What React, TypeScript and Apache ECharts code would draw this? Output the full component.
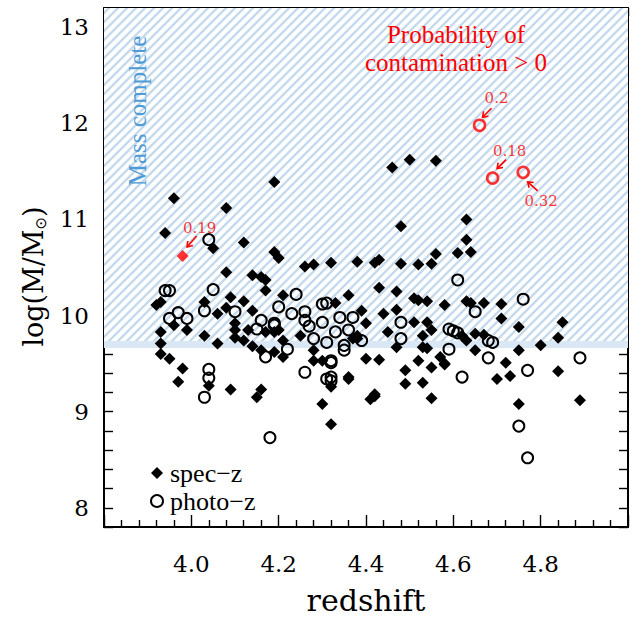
import React, { useEffect, useRef } from 'react';
import * as echarts from 'echarts';

// ---------- data ----------
const specZ: [number, number][] = [
  [3.94, 10.86], [3.96, 11.22], [4.05, 10.70], [4.08, 11.12], [4.12, 10.76], [4.19, 11.39], [4.19, 10.66],
  [4.20, 10.60], [4.26, 10.51], [4.28, 10.53], [4.32, 10.55], [4.38, 10.56], [4.08, 10.45],
  [4.46, 11.54], [4.50, 11.62], [4.56, 11.61], [4.48, 10.93], [4.63, 11.00], [4.63, 10.79], [4.56, 10.64],
  [4.61, 10.65], [4.64, 10.66], [4.42, 10.55], [4.43, 10.58], [4.48, 10.54], [4.52, 10.53], [4.55, 10.54],
  [4.14, 10.42], [4.16, 10.40], [4.17, 10.37], [4.17, 10.26],
  [3.92, 10.11], [3.93, 10.14], [4.03, 10.14], [4.09, 10.19], [4.12, 10.15],
  [4.06, 10.02], [4.08, 10.08], [3.96, 9.90], [3.99, 9.85], [3.93, 9.83], [4.03, 9.79], [4.06, 9.71],
  [3.93, 9.71], [4.10, 9.92], [4.10, 9.85], [4.10, 9.77], [4.12, 9.74], [4.14, 10.05], [4.13, 9.85],
  [4.14, 9.68], [4.16, 9.64], [4.17, 9.83], [4.19, 9.83], [3.93, 9.60], [3.95, 9.55], [3.98, 9.45], [3.97, 9.31],
  [4.43, 10.29], [4.47, 10.25], [4.51, 10.18], [4.52, 10.16], [4.54, 10.15], [4.58, 10.11], [4.21, 10.21],
  [4.36, 10.21], [4.33, 10.13], [4.39, 10.05], [4.40, 9.92], [4.44, 10.02], [4.47, 10.06], [4.51, 9.93],
  [4.54, 9.93], [4.55, 9.85], [4.45, 9.83], [4.53, 9.79], [4.53, 9.67], [4.54, 9.66], [4.47, 9.67],
  [4.20, 9.85], [4.21, 9.74], [4.21, 9.57], [4.19, 9.62], [4.25, 9.79], [4.37, 9.76], [4.38, 9.76],
  [4.38, 9.79], [4.28, 9.64], [4.28, 9.53], [4.30, 9.53], [4.40, 9.55], [4.43, 9.54], [4.49, 9.43],
  [4.52, 9.53], [4.57, 9.57], [4.58, 9.50], [4.55, 9.46], [4.36, 9.36],
  [4.63, 10.15], [4.64, 10.13], [4.67, 10.13], [4.71, 10.12], [4.71, 9.97], [4.75, 9.88], [4.85, 9.93],
  [4.84, 9.77], [4.62, 9.79], [4.63, 9.74], [4.65, 9.81], [4.67, 9.80], [4.65, 9.64], [4.75, 9.64],
  [4.80, 9.69], [4.72, 9.51], [4.58, 9.49], [4.84, 9.42], [4.73, 9.37], [4.70, 9.34],
  [4.04, 9.27], [4.09, 9.23], [4.15, 9.15], [4.16, 9.23], [4.30, 9.08], [4.32, 8.87], [4.32, 9.26],
  [4.36, 9.34], [4.41, 9.13],
  [4.42, 9.16], [4.42, 9.18], [4.49, 9.29], [4.53, 9.30], [4.55, 9.14], [4.75, 9.08], [4.89, 9.12],
];

const photoZ: [number, number][] = [
  [4.04, 10.79], [4.05, 10.27], [3.94, 10.26], [3.95, 10.26], [4.20, 10.09], [3.95, 9.97], [3.97, 10.03],
  [3.99, 9.97], [4.03, 10.05], [4.10, 10.04], [4.15, 9.86], [4.16, 9.95], [4.17, 9.57], [4.19, 9.90],
  [4.04, 9.44], [4.04, 9.35], [4.24, 10.22], [4.23, 10.02], [4.26, 10.04], [4.26, 9.95], [4.27, 9.89],
  [4.30, 9.93], [4.30, 10.12], [4.31, 10.13], [4.34, 9.98], [4.37, 9.98], [4.48, 9.93], [4.48, 9.76],
  [4.59, 9.86], [4.59, 9.65], [4.19, 9.92], [4.22, 9.65], [4.28, 9.76], [4.31, 9.72], [4.33, 9.83],
  [4.35, 9.69], [4.35, 9.64], [4.36, 9.85], [4.39, 9.74], [4.32, 9.53], [4.32, 9.51], [4.26, 9.41],
  [4.31, 9.34], [4.32, 9.36],
  [4.61, 10.37], [4.76, 10.17], [4.65, 10.04], [4.60, 9.84], [4.61, 9.82], [4.68, 9.74], [4.69, 9.72],
  [4.68, 9.56], [4.89, 9.56], [4.77, 9.43], [4.62, 9.36],
  [4.03, 9.15], [4.18, 8.73], [4.32, 9.32], [4.75, 8.85], [4.77, 8.52],
];

// galaxies with probability of contamination > 0
const contamPhotoZ: [number, number][] = [[4.66, 11.98], [4.69, 11.43], [4.76, 11.49]];
const contamPhotoProb = ['0.2', '0.18', '0.32'];
const contamSpecZ: [number, number][] = [[3.98, 10.62]];
const contamSpecProb = ['0.19'];

const massCompleteLimit = 9.7;
const xRange = [3.8, 5.0];
const yRange = [7.8, 13.2];

const seriesNames = ['spec\u2212z', 'photo\u2212z'];
const titleLines = ['Probability of', 'contamination > 0'];
const massCompleteText = 'Mass complete';

// ---------- styling (pixel offsets of annotations relative to their point) ----------
const photoAnnot = [
  { label: [17, -27], tail: [12, -17], head: [3, -8] },
  { label: [17, -27], tail: [13.5, -18.5], head: [4.5, -9.5] },
  { label: [18, 29], tail: [14.5, 18.5], head: [4.5, 9.5] },
];
const specAnnot = [{ label: [17, -28], tail: [14, -20], head: [4.5, -9] }];

const SERIF = "'Liberation Serif', 'Times New Roman', serif";
const DSERIF = "'DejaVu Serif', serif";
const RED = '#ff0000';

function makeHatch(): HTMLCanvasElement {
  const s = 9;
  const c = document.createElement('canvas');
  c.width = s;
  c.height = s;
  const g = c.getContext('2d')!;
  g.fillStyle = '#ffffff';
  g.fillRect(0, 0, s, s);
  g.strokeStyle = '#c6daee';
  g.lineWidth = 2.4;
  g.lineCap = 'square';
  g.beginPath();
  g.moveTo(-s, 2 * s); g.lineTo(2 * s, -s);
  g.moveTo(-s, s); g.lineTo(s, -s);
  g.moveTo(0, 2 * s); g.lineTo(2 * s, 0);
  g.stroke();
  return c;
}

export default function App() {
  const ref = useRef<HTMLDivElement>(null);

  useEffect(() => {
    if (!ref.current) return;
    document.body.style.margin = '0';
    const chart = echarts.init(ref.current, undefined, { renderer: 'svg' });
    const hatch = makeHatch();

    const tickLine = { color: '#000', width: 1.4 };
    const axisLine = { show: true, onZero: false, lineStyle: { color: '#000', width: 2 } };

    const staticGraphic: any[] = [
      {
        type: 'text', id: 'mass', x: 137, y: 111, rotation: Math.PI / 2, z: 5,
        style: { text: massCompleteText, fill: '#4f9bd5', font: `25px ${SERIF}`, textAlign: 'center', textVerticalAlign: 'middle', verticalAlign: 'middle' },
      },
      {
        type: 'text', id: 't1', x: 456, y: 34, z: 5,
        style: { text: titleLines[0], fill: RED, font: `25px ${SERIF}`, textAlign: 'center', textVerticalAlign: 'middle', verticalAlign: 'middle' },
      },
      {
        type: 'text', id: 't2', x: 456, y: 62, z: 5,
        style: { text: titleLines[1], fill: RED, font: `25px ${SERIF}`, textAlign: 'center', textVerticalAlign: 'middle', verticalAlign: 'middle' },
      },
    ];

    const probLabel = (offset: number[]) => ({
      show: true, position: 'inside', offset, color: RED, fontFamily: DSERIF, fontSize: 15,
    });

    const option: any = {
      animation: false,
      backgroundColor: '#ffffff',
      grid: { left: 104, right: 5, top: 8, bottom: 92, containLabel: false },
      legend: {
        orient: 'vertical', left: 145, top: 455, itemWidth: 12, itemHeight: 12, itemGap: 2,
        textStyle: { fontFamily: SERIF, fontSize: 26, lineHeight: 26, color: '#000', padding: [0, 0, 0, 2] },
        data: [
          { name: seriesNames[0], icon: 'diamond' },
          { name: seriesNames[1], icon: 'circle' },
        ],
      },
      xAxis: [
        {
          type: 'value', min: xRange[0], max: xRange[1], interval: 0.2, position: 'bottom',
          axisLine, splitLine: { show: false },
          axisTick: { show: true, inside: true, length: 12, lineStyle: tickLine },
          minorTick: { show: true, splitNumber: 5, length: 7, lineStyle: tickLine },
          axisLabel: {
            margin: 25, color: '#000', fontFamily: DSERIF, fontSize: 23,
            formatter: (v: number) => (v > 3.85 && v < 4.95 ? v.toFixed(1) : ''),
          },
          name: 'redshift', nameLocation: 'middle', nameGap: 58,
          nameTextStyle: { fontFamily: DSERIF, fontSize: 30, color: '#000' },
        },
        {
          type: 'value', min: xRange[0], max: xRange[1], interval: 0.2, position: 'top',
          axisLine, splitLine: { show: false },
          axisTick: { show: true, inside: true, length: 8, lineStyle: tickLine },
          minorTick: { show: true, splitNumber: 5, length: 8, lineStyle: tickLine },
          axisLabel: { show: false },
        },
      ],
      yAxis: [
        {
          type: 'value', min: yRange[0], max: yRange[1], interval: 0.2, position: 'left',
          axisLine, splitLine: { show: false },
          axisTick: { show: true, inside: true, length: 9, lineStyle: tickLine },
          axisLabel: {
            margin: 15, color: '#000', fontFamily: DSERIF, fontSize: 23, showMinLabel: true, showMaxLabel: true,
            formatter: (v: number) => (Math.abs(v - Math.round(v)) < 1e-6 ? String(Math.round(v)) : ''),
          },
          name: 'log(M/M{sub|\u2299})', nameLocation: 'middle', nameGap: 56,
          nameTextStyle: {
            fontFamily: DSERIF, fontSize: 27, color: '#000', padding: [0, 18, 0, 0],
            rich: { sub: { fontFamily: "'DejaVu Sans', sans-serif", fontSize: 15, color: '#000', padding: [15, 0, 0, 0] } },
          },
        },
        {
          type: 'value', min: yRange[0], max: yRange[1], interval: 0.2, position: 'right',
          axisLine, splitLine: { show: false },
          axisTick: { show: true, inside: true, length: 9, lineStyle: tickLine },
          axisLabel: { show: false },
        },
      ],
      series: [
        {
          name: 'mass-complete', type: 'scatter', data: [], z: 1, silent: true,
          markArea: {
            silent: true, z: 1,
            itemStyle: { color: { image: hatch, repeat: 'repeat', imageWidth: hatch.width, imageHeight: hatch.height } },
            data: [[{ yAxis: massCompleteLimit }, { yAxis: yRange[1] }]],
          },
          markLine: {
            silent: true, symbol: 'none', z: 1,
            lineStyle: { color: '#dae7f5', width: 7, type: 'solid' },
            label: { show: false },
            data: [{ yAxis: massCompleteLimit }],
          },
        },
        {
          name: seriesNames[1], type: 'scatter', z: 3, data: photoZ,
          symbol: 'circle', symbolSize: 11,
          itemStyle: { color: 'rgba(255,255,255,0)', borderColor: '#000', borderWidth: 2, opacity: 1 },
        },
        {
          name: seriesNames[0], type: 'scatter', z: 4, data: specZ,
          symbol: 'diamond', symbolSize: 12,
          itemStyle: { color: '#000', opacity: 1 },
        },
        {
          name: 'contam-photo', type: 'scatter', z: 5,
          symbol: 'circle', symbolSize: 11,
          itemStyle: { color: 'rgba(255,255,255,0)', borderColor: RED, borderWidth: 2.6 },
          data: contamPhotoZ.map((v, i) => ({
            value: v, label: { ...probLabel(photoAnnot[i].label), formatter: contamPhotoProb[i] },
          })),
        },
        {
          name: 'contam-spec', type: 'scatter', z: 5,
          symbol: 'diamond', symbolSize: 12,
          itemStyle: { color: RED },
          data: contamSpecZ.map((v, i) => ({
            value: v, label: { ...probLabel(specAnnot[i].label), formatter: contamSpecProb[i] },
          })),
        },
      ],
      graphic: staticGraphic,
    };

    chart.setOption(option);

    // arrows pointing from the probability labels to their points
    const arrows: any[] = [];
    const addArrow = (pt: [number, number], a: { tail: number[]; head: number[] }, id: string) => {
      const p = chart.convertToPixel({ xAxisIndex: 0, yAxisIndex: 0 }, pt) as number[];
      const tx = p[0] + a.tail[0], ty = p[1] + a.tail[1];
      const hx = p[0] + a.head[0], hy = p[1] + a.head[1];
      const dx = tx - hx, dy = ty - hy;
      const len = Math.hypot(dx, dy) || 1;
      const ux = dx / len, uy = dy / len;
      const ang = (35 * Math.PI) / 180, L = 6;
      const r = (s: number) => [hx + L * (ux * Math.cos(s) - uy * Math.sin(s)), hy + L * (ux * Math.sin(s) + uy * Math.cos(s))];
      const w1 = r(ang), w2 = r(-ang);
      const style = { stroke: RED, lineWidth: 1.6, fill: null };
      arrows.push({ type: 'line', id: id + 's', z: 6, shape: { x1: tx, y1: ty, x2: hx, y2: hy }, style });
      arrows.push({ type: 'polyline', id: id + 'h', z: 6, shape: { points: [w1, [hx, hy], w2] }, style });
    };
    contamPhotoZ.forEach((pt, i) => addArrow(pt, photoAnnot[i], 'ap' + i));
    contamSpecZ.forEach((pt, i) => addArrow(pt, specAnnot[i], 'as' + i));
    chart.setOption({ graphic: [...staticGraphic, ...arrows] });

    return () => chart.dispose();
  }, []);

  return <div ref={ref} style={{ width: 633, height: 620 }} />;
}
